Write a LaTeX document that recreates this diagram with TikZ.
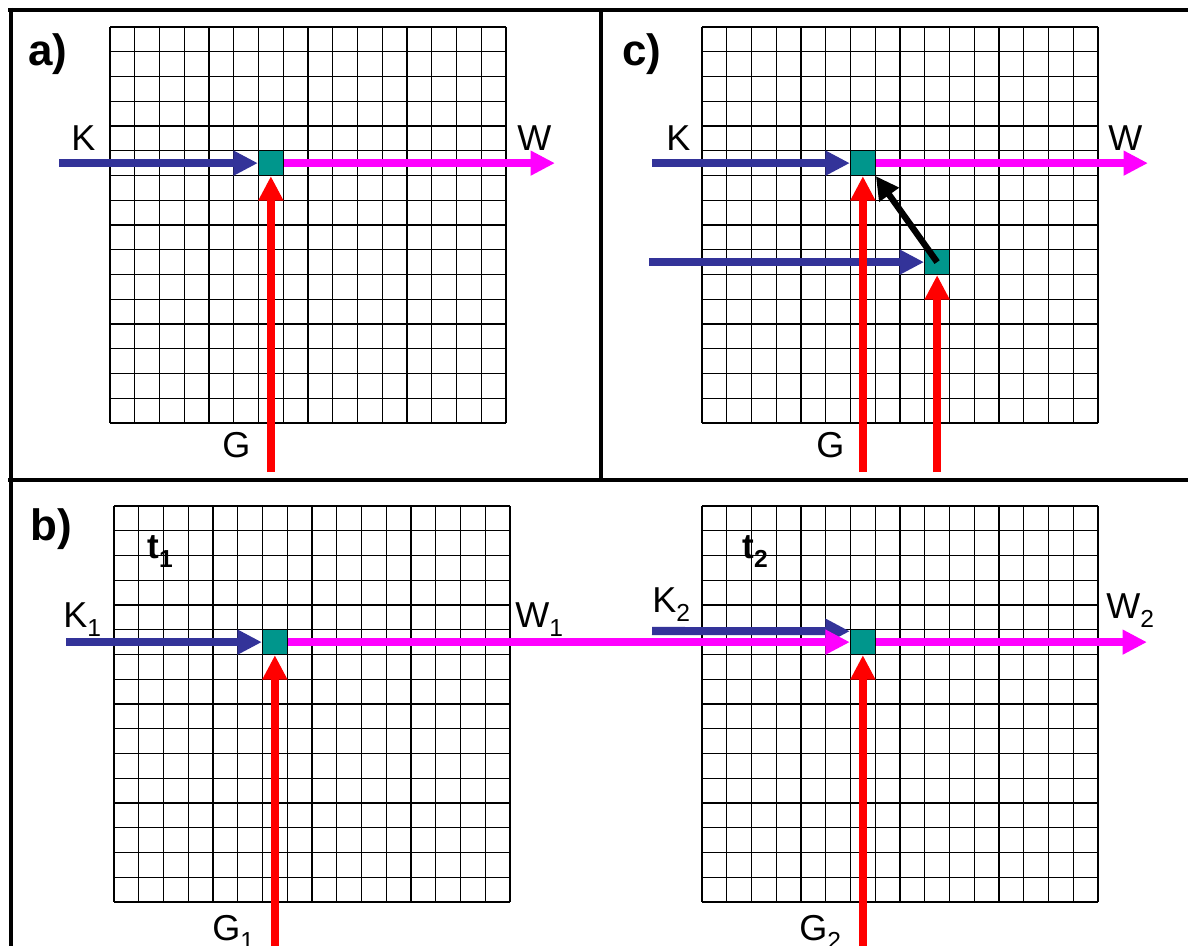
\documentclass[tikz,border=0pt]{standalone}
\usepackage{fontspec}
\setmainfont{Liberation Sans}
\usetikzlibrary{arrows.meta}

\definecolor{kblue}{RGB}{51,51,153}
\definecolor{wmagenta}{RGB}{255,0,255}
\definecolor{gred}{RGB}{255,0,0}
\definecolor{cellteal}{RGB}{0,150,140}

\newcommand{\lowsub}[1]{\raisebox{-5.5pt}{\fontsize{14}{16}\selectfont #1}}
\newcommand{\cellgrid}[2]{%
  \foreach \i in {0,...,16}{%
    \draw[grid line] ({#1+\i*24.75},#2) -- ({#1+\i*24.75},{#2+396});
    \draw[grid line] (#1,{#2+\i*24.75}) -- ({#1+396},{#2+\i*24.75});
  }}

\begin{document}
\begin{tikzpicture}[
    x=0.02cm, y=-0.02cm,
    grid line/.style={line width=0.8pt},
    frame line/.style={line width=2.8pt},
    cell node/.style={rectangle, draw, fill=cellteal, minimum size=4.95mm, inner sep=0pt, line width=0.7pt},
    flow arrow/.style={line width=4.6pt, -{Triangle[length=4.9mm, width=4.7mm]}},
    k arrow/.style={flow arrow, draw=kblue},
    w arrow/.style={flow arrow, draw=wmagenta},
    g arrow/.style={flow arrow, draw=gred},
    link arrow/.style={line width=3.6pt, draw=black, -{Triangle[length=4.6mm, width=4.6mm]}},
    label text/.style={anchor=base west, inner sep=0pt, font=\fontsize{20.5}{24}\selectfont},
    panel tag/.style={anchor=base west, inner sep=0pt, font=\fontsize{25}{30}\selectfont\bfseries}
    ]

    \useasboundingbox (0,0) rectangle (1188,946);

    % frame
    \draw[frame line] (8,10) -- (1188,10);
    \draw[frame line] (11,8) -- (11,946);
    \draw[frame line] (8,480) -- (1188,480);
    \draw[frame line] (601,10) -- (601,480);

    % grids
    \cellgrid{110}{27}
    \cellgrid{702}{27}
    \cellgrid{114}{506}
    \cellgrid{702}{506}

    % panel a
    \node[panel tag] (TA) at (28,66) {a)};
    \node[cell node] (SQA) at (270.875,163.125) {};
    \coordinate (KA) at (59,163.125);
    \coordinate (WA) at (555,163.125);
    \coordinate (GA) at (270.875,472);
    \draw[k arrow] (KA) -- (SQA.west);
    \draw[w arrow] (SQA.east) -- (WA);
    \draw[g arrow] (GA) -- (SQA.south);
    \node[label text] (LKA) at (71,151) {K};
    \node[label text] (LWA) at (517,151) {W};
    \node[label text] (LGA) at (222,457) {G};

    % panel c
    \node[panel tag] (TC) at (622,66) {c)};
    \node[cell node] (SQC1) at (862.875,163.125) {};
    \node[cell node] (SQC2) at (937.125,262.125) {};
    \coordinate (KC1) at (652,163.125);
    \coordinate (KC2) at (649,262.125);
    \coordinate (WC) at (1148,163.125);
    \coordinate (GC1) at (862.875,472);
    \coordinate (GC2) at (937.125,472);
    \draw[k arrow] (KC1) -- (SQC1.west);
    \draw[k arrow] (KC2) -- (SQC2.west);
    \draw[w arrow] (SQC1.east) -- (WC);
    \draw[g arrow] (GC1) -- (SQC1.south);
    \draw[g arrow] (GC2) -- (SQC2.south);
    \draw[link arrow] (SQC2.center) -- (SQC1.south east);
    \node[label text] (LKC) at (666,151) {K};
    \node[label text] (LWC) at (1108,151) {W};
    \node[label text] (LGC) at (816,457) {G};

    % panel b
    \node[panel tag] (TB) at (30,540) {b)};
    \node[cell node] (SQB1) at (274.875,642.125) {};
    \node[cell node] (SQB2) at (862.875,642.125) {};
    \coordinate (KB1) at (66,642.125);
    \coordinate (KB2) at (652,631);
    \coordinate (WB2) at (1147,642.125);
    \coordinate (GB1) at (274.875,946);
    \coordinate (GB2) at (862.875,946);
    \draw[k arrow] (KB1) -- (SQB1.west);
    \draw[k arrow] (KB2) -- ([yshift=6.2pt]SQB2.west);
    \draw[w arrow] (SQB1.east) -- (SQB2.west);
    \draw[w arrow] (SQB2.east) -- (WB2);
    \draw[g arrow] (GB1) -- (SQB1.south);
    \draw[g arrow] (GB2) -- (SQB2.south);
    \node[label text, font=\fontsize{20}{24}\selectfont\bfseries] (LT1) at (147,558) {t\lowsub{1}};
    \node[label text, font=\fontsize{20}{24}\selectfont\bfseries] (LT2) at (742,558) {t\lowsub{2}};
    \node[label text] (LKB1) at (63,627) {K\lowsub{1}};
    \node[label text] (LWB1) at (515,627) {W\lowsub{1}};
    \node[label text] (LKB2) at (652,612) {K\lowsub{2}};
    \node[label text] (LWB2) at (1106,618) {W\lowsub{2}};
    \node[label text] (LGB1) at (212,940) {G\lowsub{1}};
    \node[label text] (LGB2) at (799,940) {G\lowsub{2}};

\end{tikzpicture}
\end{document}
